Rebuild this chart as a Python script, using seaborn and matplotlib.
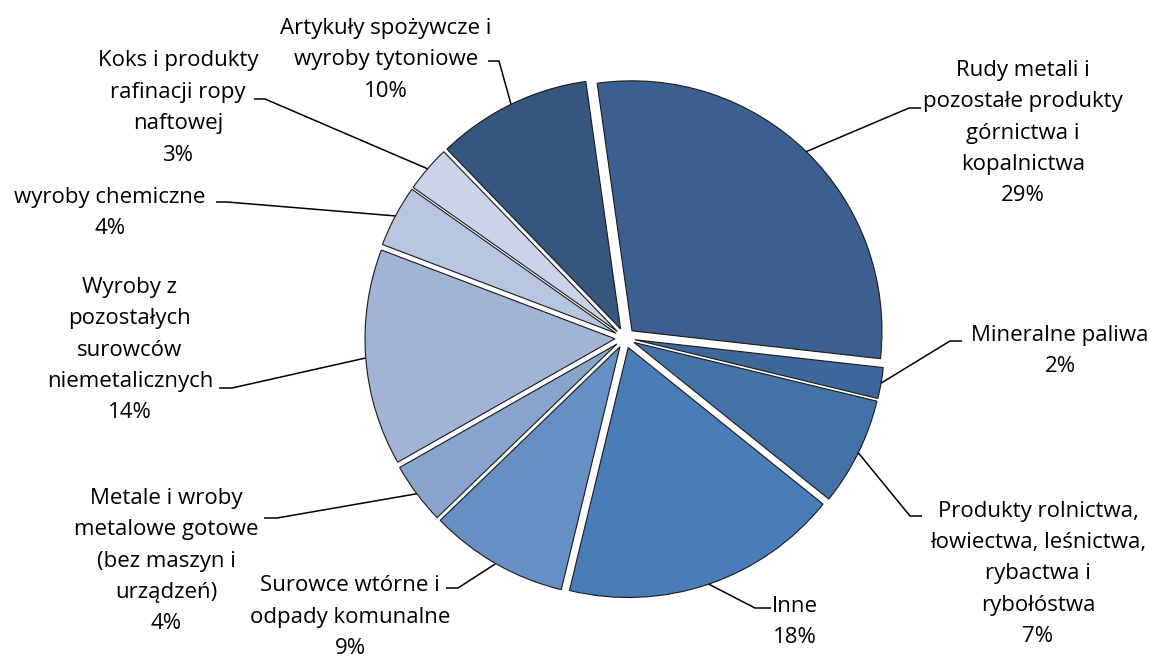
import numpy as np
import matplotlib
matplotlib.use("Agg")
import matplotlib.pyplot as plt
import seaborn as sns

# Struktura przewozów według grup towarowych (udział w %)
categories = [
    "Rudy metali i\npozostałe produkty\ngórnictwa i\nkopalnictwa",
    "Mineralne paliwa",
    "Produkty rolnictwa,\nłowiectwa, leśnictwa,\nrybactwa i\nrybołóstwa",
    "Inne",
    "Surowce wtórne i\nodpady komunalne",
    "Metale i wroby\nmetalowe gotowe\n(bez maszyn i\nurządzeń)",
    "Wyroby z\npozostałych\nsurowców\nniemetalicznych",
    "wyroby chemiczne",
    "Koks i produkty\nrafinacji ropy\nnaftowej",
    "Artykuły spożywcze i\nwyroby tytoniowe",
]
shares = [29, 2, 7, 18, 9, 4, 14, 4, 3, 10]

colors = ["#3B5F8F", "#3E679B", "#4472A8", "#4A7CB8", "#668FC3",
          "#88A3CC", "#A1B4D6", "#B7C5E0", "#CAD4E8", "#34567F"]

# label block centre (px) and leader elbow points (px): text-side end, elbow
label_layout = [
    dict(xy=(1023, 133), start=(921, 108), elbow=(909, 108)),
    dict(xy=(1060, 351), start=(962, 341), elbow=(950, 341)),
    dict(xy=(1038, 574), start=(922, 516), elbow=(910, 516)),
    dict(xy=(795, 622), start=(771, 608), elbow=(755, 608)),
    dict(xy=(350, 617), start=(446, 588), elbow=(458, 588)),
    dict(xy=(166, 561), start=(264, 518), elbow=(277, 518)),
    dict(xy=(130, 350), start=(219, 388), elbow=(232, 388)),
    dict(xy=(110, 213), start=(216, 202), elbow=(227, 202)),
    dict(xy=(178, 108), start=(254, 99), elbow=(265, 99)),
    dict(xy=(386, 60), start=(488, 61), elbow=(499, 61)),
]

W, H = 1154, 660
sns.set_theme(style="white")
plt.rcParams["font.family"] = ["Open Sans", "DejaVu Sans"]

fig = plt.figure(figsize=(W / 100, H / 100), dpi=100)
ax = fig.add_axes([0, 0, 1, 1])

cx, cy, radius = 625, H - 338, 250
# explode is given in data units (pixels here)
explode = [10] * len(shares)

wedges, _ = ax.pie(
    shares,
    colors=colors,
    startangle=98,
    counterclock=False,
    explode=explode,
    center=(cx, cy),
    radius=radius,
    wedgeprops=dict(edgecolor="#1a1a1a", linewidth=0.8),
)

ax.set_aspect("auto")
ax.set_xlim(0, W)
ax.set_ylim(0, H)
ax.axis("off")

for wedge, cat, val, lay in zip(wedges, categories, shares, label_layout):
    mid = np.deg2rad((wedge.theta1 + wedge.theta2) / 2)
    wx, wy = wedge.center
    r = wedge.r
    ex, ey = wx + r * np.cos(mid), wy + r * np.sin(mid)
    sx, sy = lay["start"]
    bx, by = lay["elbow"]
    ax.plot([sx, bx, ex], [H - sy, H - by, ey], color="black", lw=1.1,
            solid_capstyle="butt", zorder=3)
    tx, ty = lay["xy"]
    ax.text(tx, H - ty, f"{cat}\n{val}%", ha="center", va="center",
            fontsize=16, color="black", linespacing=1.65, multialignment="center")

fig.savefig("out.png", dpi=100, facecolor="white")
